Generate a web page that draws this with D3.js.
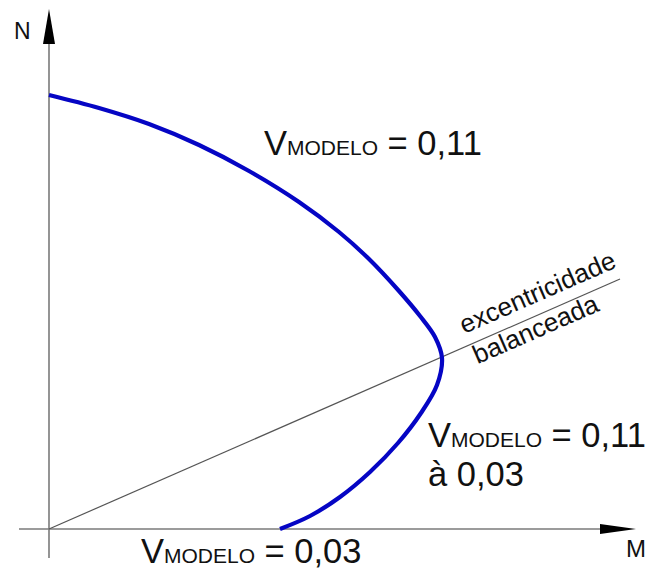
<!DOCTYPE html>
<html>
<head>
<meta charset="utf-8">
<script src="https://cdn.jsdelivr.net/npm/d3@7/dist/d3.min.js"></script>
<style>
  html, body { margin: 0; padding: 0; background: #fff; }
  svg { display: block; font-family: "Liberation Sans", Arial, sans-serif; }
</style>
</head>
<body>
<svg id="chart" width="652" height="572"></svg>
<script>
// Interaction curve N-M (normalised units)
const curveM = [0, 0.5, 1.0, 1.5, 2.0, 2.5, 2.9, 3.2, 3.5, 3.71, 3.86, 3.93, 3.88, 3.72, 3.49, 3.21, 2.91, 2.61, 2.31];
const curveN = [4.34, 4.21, 4.05, 3.84, 3.58, 3.27, 2.97, 2.70, 2.38, 2.13, 1.92, 1.71, 1.44, 1.16, 0.86, 0.57, 0.32, 0.13, 0];

// Balanced eccentricity line (from origin)
const balancedM = [0, 5.71];
const balancedN = [0, 2.50];

// Axis extents
const axisM = [-0.30, 5.87];
const axisN = [-0.29, 5.20];

const svg = d3.select("#chart");

const x = d3.scaleLinear().domain([0, 6]).range([49, 649]);
const y = d3.scaleLinear().domain([0, 5]).range([529, 29]);

const axisColor = "#7a7a7a";
const blue = "#0505c4";

// Axes
svg.append("line")
  .attr("x1", x(axisM[0])).attr("y1", y(0))
  .attr("x2", x(axisM[1]) - 10).attr("y2", y(0))
  .attr("stroke", axisColor).attr("stroke-width", 1.6);
svg.append("line")
  .attr("x1", x(0)).attr("y1", y(axisN[0]))
  .attr("x2", x(0)).attr("y2", y(axisN[1]) + 10)
  .attr("stroke", axisColor).attr("stroke-width", 1.6);

// Arrow heads
const mx = x(axisM[1]), ny = y(axisN[1]);
svg.append("path")
  .attr("d", `M${mx},${y(0)} L${mx - 36},${y(0) - 5} L${mx - 36},${y(0) + 5} Z`)
  .attr("fill", "#000");
svg.append("path")
  .attr("d", `M${x(0)},${ny} L${x(0) - 6},${ny + 35} L${x(0) + 6},${ny + 35} Z`)
  .attr("fill", "#000");

// Axis labels
svg.append("text").attr("x", 14).attr("y", 39)
  .attr("font-size", 23).attr("fill", "#111").text("N");
svg.append("text").attr("x", 626).attr("y", 557)
  .attr("font-size", 24).attr("fill", "#111").text("M");

// Balanced eccentricity line
const lineGen = d3.line().x(d => x(d[0])).y(d => y(d[1]));
svg.append("path")
  .datum(balancedM.map((m, i) => [m, balancedN[i]]))
  .attr("d", lineGen)
  .attr("fill", "none").attr("stroke", "#555").attr("stroke-width", 1.2);

// Interaction curve
const curveGen = d3.line().x(d => x(d[0])).y(d => y(d[1])).curve(d3.curveCatmullRom.alpha(0.5));
svg.append("path")
  .datum(curveM.map((m, i) => [m, curveN[i]]))
  .attr("d", curveGen)
  .attr("fill", "none").attr("stroke", blue).attr("stroke-width", 4.2)
  .attr("stroke-linecap", "butt");

// Labels along the balanced line
const slope = balancedN[1] / balancedM[1];
const angle = -Math.atan2(y(0) - y(balancedN[1]), x(balancedM[1]) - x(0)) * 180 / Math.PI;
const footM = 4.2;
const fx = x(footM), fy = y(footM * slope);
const g = svg.append("g").attr("transform", `translate(${fx},${fy}) rotate(${angle})`);
g.append("text").attr("x", 0).attr("y", -12)
  .attr("font-size", 26).attr("fill", "#111").text("excentricidade");
g.append("text").attr("x", 0).attr("y", 21)
  .attr("font-size", 26).attr("fill", "#111").text("balanceada");

// V_MODELO labels
function vLabel(px, py, value) {
  const t = svg.append("text").attr("x", px).attr("y", py)
    .attr("font-size", 34.5).attr("fill", "#111");
  t.append("tspan").text("V");
  t.append("tspan").attr("font-size", 21).text("MODELO");
  t.append("tspan").text(" = " + value);
  return t;
}
vLabel(264, 155, "0,11");
vLabel(428, 447, "0,11");
svg.append("text").attr("x", 428).attr("y", 486)
  .attr("font-size", 34.5).attr("fill", "#111").text("à 0,03");
vLabel(141, 563, "0,03");
</script>
</body>
</html>
